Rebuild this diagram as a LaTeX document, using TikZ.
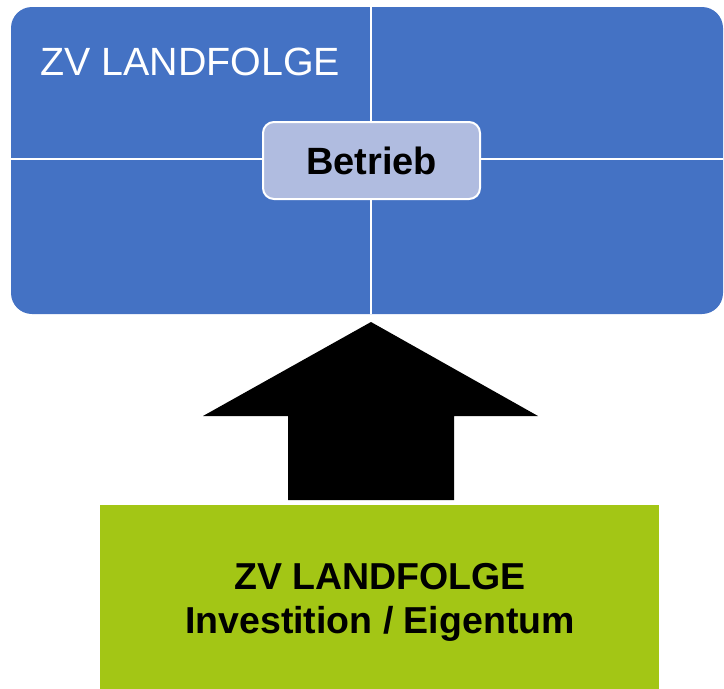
\documentclass[tikz,border=0pt]{standalone}
\usepackage{fontspec}
\setmainfont{Liberation Sans}
\definecolor{zvblue}{HTML}{4472C4}
\definecolor{zvlav}{HTML}{B0BCE0}
\definecolor{zvgreen}{HTML}{A3C615}
\tikzset{
  bluebox/.style={fill=zvblue, draw=none, rounded corners=21pt, minimum width=712pt, minimum height=307pt, inner sep=0pt},
  sepline/.style={draw=white, line width=2.6pt},
  centerbox/.style={fill=zvlav, draw=white, line width=2pt, rounded corners=11pt, minimum width=217pt, minimum height=77pt, inner sep=0pt, font=\fontsize{38}{44}\selectfont\bfseries, text=black},
  titletext/.style={text=white, inner sep=0pt, anchor=base west, font=\fontsize{39.4}{47}\selectfont},
  greenbox/.style={fill=zvgreen, draw=none, minimum width=559pt, minimum height=200pt, inner sep=0pt, anchor=north west},
  greentext/.style={text=black, inner sep=0pt, align=center, font=\fontsize{37.5}{44}\selectfont\bfseries},
  bigarrow/.style={fill=black, draw=none}
}
\begin{document}
\begin{tikzpicture}[x=1pt,y=-1pt]
\useasboundingbox (0,0) rectangle (724,689);
\begin{scope}
\clip (0,0) rectangle (724,689);
% top blue block
\node[bluebox] (top) at (367,160.5) {};
\draw[sepline] (top.north -| 371,0) -- (top.south -| 371,0);
\draw[sepline] (top.west |- 0,159) -- (top.east |- 0,159);
\node[titletext] (title) at (40,75) {ZV LANDFOLGE};
\node[centerbox] (betrieb) at (371.5,160.5) {Betrieb};
% arrow
\coordinate (tip) at (371,322);
\fill[bigarrow] (tip) -- (538,416) -- (454,416) -- (454,500) -- (288,500) -- (288,416) -- (203,416) -- cycle;
% green block
\node[greenbox] (base) at (100,505) {};
\node[greentext] (basetext) at (380,602) {ZV LANDFOLGE\\Investition / Eigentum};
\end{scope}
\end{tikzpicture}
\end{document}
